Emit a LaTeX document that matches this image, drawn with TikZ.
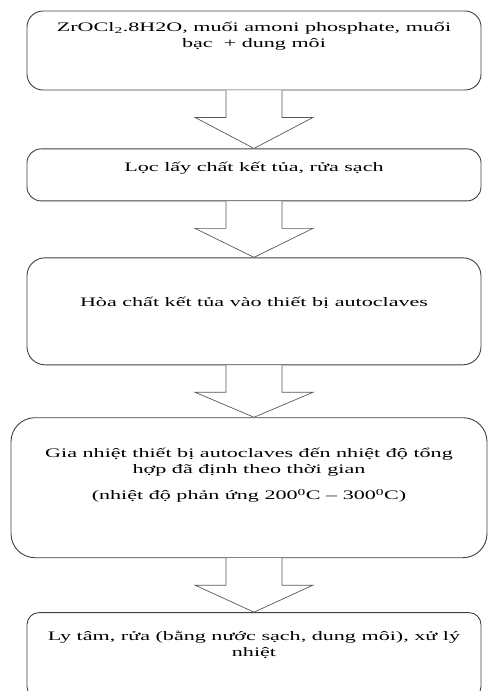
\documentclass[tikz,border=0pt]{standalone}
\usepackage{fontspec}
\setmainfont{Liberation Serif}[FakeStretch=1.7]
\usetikzlibrary{positioning,calc}
\tikzset{
  stepbox/.style={draw=black!75,line width=0.9pt,rounded corners=14pt,
    minimum width=454pt,inner sep=0pt},
  steptext/.style={align=center,inner sep=0pt,
    font=\fontsize{13}{16}\selectfont},
  blockarr/.style={draw=black!65,line width=0.7pt,fill=white},
}

\begin{document}
\begin{tikzpicture}[x=1pt,y=1pt]
\useasboundingbox (0,0) rectangle (488,-691);
% process boxes
\node[stepbox,minimum height=79pt,rounded corners=16pt] (b1) at (254,-50.5) {};
\node[stepbox,minimum height=52pt,below=58pt of b1] (b2) {};
\node[stepbox,minimum height=107pt,rounded corners=18pt,below=56pt of b2] (b3) {};
\node[stepbox,minimum height=140pt,minimum width=476pt,rounded corners=24pt,
  below=52pt of b3,xshift=-5pt] (b4) {};
\node[stepbox,minimum height=86pt,rounded corners=12pt,below=54pt of b4,xshift=5pt] (b5) {};
% texts, set high in each box
\node[steptext,below=11pt of b1.north] (t1) {ZrOCl\textsubscript{2}.8H2O, muối amoni phosphate, muối\\bạc \ + dung môi};
\node[steptext,below=13pt of b2.north] (t2) {Lọc lấy chất kết tủa, rửa sạch};
\node[steptext,below=40pt of b3.north] (t3) {Hòa chất kết tủa vào thiết bị autoclaves};
\node[steptext,below=31pt of b4.north] (t4) {Gia nhiệt thiết bị autoclaves đến nhiệt độ tổng\\hợp đã định theo thời gian\\[10pt]
  (nhiệt độ phản ứng 200\textsuperscript{0}C -- 300\textsuperscript{0}C)};
\node[steptext,below=19pt of b5.north] (t5) {Ly tâm, rửa (bằng nước sạch, dung môi), xử lý\\nhiệt};
% block arrows between the boxes
\foreach \a/\b in {b1/b2,b2/b3,b3/b4,b4/b5}
  \draw[blockarr] ($(b1 |- \a.south)+(-28,0)$) -- ++(0,-27) -- ++(-31,0)
    -- (b1 |- \b.north) -- ($(b1 |- \a.south)+(59,-27)$) -- ++(-31,0) -- ++(0,27);
\end{tikzpicture}
\end{document}
